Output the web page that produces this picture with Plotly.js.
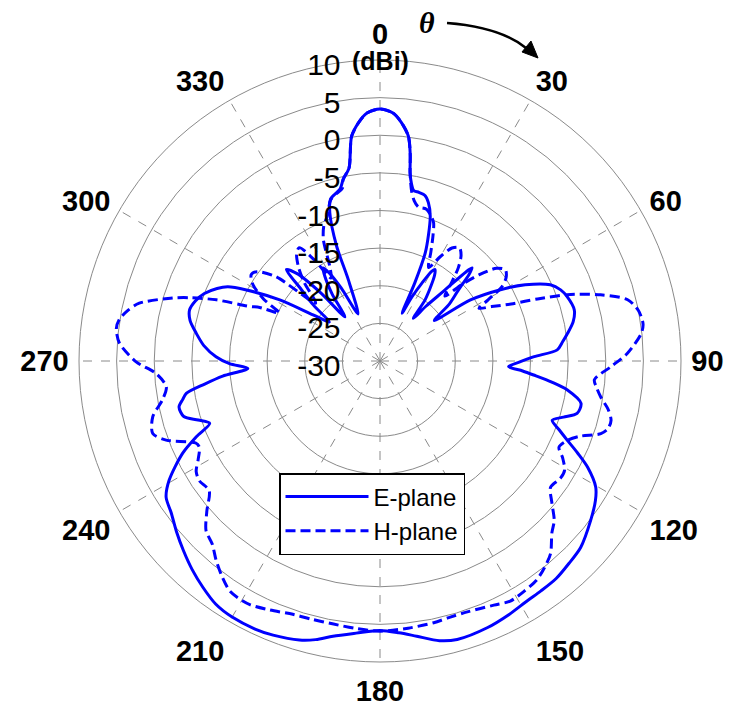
<!DOCTYPE html>
<html>
<head>
<meta charset="utf-8">
<script src="https://cdn.plot.ly/plotly-3.0.1.min.js"></script>
<style>html,body{margin:0;padding:0;background:#fff;}#chart{width:731px;height:711px;}</style>
</head>
<body>
<div id="chart"></div>
<script>
// ---- Data (theta in degrees, gain in dBi) ----
const eTheta = [0,3,5,7.2,8.3,9.1,10,11.2,13,15.2,17,19.1,21,22.7,24,24.8,26.5,28.3,30,31,32.5,34.5,36.4,38,40,42.3,44,44.7,45.8,47.9,50.5,53.3,56,59.4,62.3,65.9,68.5,71,75.2,78.5,81.6,84,86.4,88.4,90.5,92.5,94,95.2,97,98.8,101.9,104.9,107,109,111,112.9,115,117.1,120.3,122.9,127.1,132.9,137,141,145,148.5,153,158,164.5,168,172.4,176,180,185,189.7,193,196.1,201.3,205,210,214,218,222,226,230,234,237.5,240.5,244.9,247.6,249.9,252,254.2,257.1,259,260.5,262.5,264.5,266.8,269,271.5,275,278.6,282,285,288,291,294,296,298,301.4,304.6,307.6,310,312.5,314.3,316.5,319,321.5,324.5,327,328.5,330,332,335,338.7,339.3,341.3,343,345.5,347,348.5,350.9,352.8,355,357,360];
const eGain  = [3.5,3.0,1.9,0.1,-2.2,-4.7,-6.0,-6.9,-7.0,-7.2,-8.0,-9.6,-12.0,-14.4,-18.6,-23.0,-20.5,-18.2,-16.2,-15.8,-16.5,-18.2,-19.9,-22.8,-20.5,-17.5,-13.5,-12.6,-13.5,-16.0,-18.0,-21.0,-15.5,-11.4,-8.2,-5.2,-4.2,-3.7,-3.3,-3.8,-4.8,-5.6,-6.4,-9.5,-11.5,-12.9,-11.0,-9.5,-7.0,-4.8,-2.7,-2.9,-4.5,-5.8,-4.5,-3.0,-1.0,1.0,3.2,4.1,5.1,6.4,6.8,7.2,7.3,7.4,7.8,8.2,8.4,8.0,6.9,6.2,5.8,6.3,7.1,8.0,8.6,9.1,9.3,9.3,9.0,8.2,7.3,6.3,5.3,4.3,3.7,2.2,-1.0,-3.6,-5.9,-4.6,-2.9,-2.6,-3.3,-3.9,-6.5,-9.0,-12.4,-10.0,-8.2,-6.5,-5.3,-4.2,-3.8,-4.2,-5.0,-6.3,-7.5,-9.9,-14.4,-19.2,-21.5,-18.5,-15.5,-12.6,-14.0,-18.0,-22.5,-19.0,-16.5,-15.5,-16.5,-19.0,-23.1,-18.4,-13.7,-9.2,-7.5,-6.9,-6.5,-5.4,-4.0,0.1,1.9,3.0,3.5];

const hTheta = [0,3,5,7.2,8.3,9.1,10.5,12,14,17,19.5,21.2,23,25,27.5,30,32.5,35,37.5,40,42.5,45,47,49,51.5,54,56.5,58.6,60.5,62,64,66.5,68.5,70.5,73.3,76.1,79,82,84,88.2,91.4,95,97,99.2,102,104.4,106.5,108.2,110.5,112.6,115.7,118,120.6,123,126.5,129.5,132.5,135,138.5,141.5,144.5,148,151.5,155,160.8,165,168.4,174,180,185,190,195,199,204,208,211,213.2,216,219.4,222.5,225.7,229,232.8,236.5,239,241.5,244.5,246,249.7,252.3,256.2,259.8,263.1,266.8,269.8,273.9,277,279,281.3,283.5,286.9,288.5,290.5,292.7,294,295.5,298,301,303.8,306,309,312,316,319,322,324.5,327,329.5,332,335,337.5,340,343,345.5,347.7,348.5,350.9,352.8,355,357,360];
const hGain  = [3.5,3.0,1.9,0.1,-2.2,-4.7,-7.0,-8.2,-8.9,-8.9,-9.6,-10.3,-12.0,-14.0,-16.0,-14.0,-12.2,-11.6,-12.3,-13.8,-16.0,-17.8,-15.0,-12.5,-10.2,-9.4,-9.9,-11.0,-13.5,-15.1,-13.5,-11.0,-7.5,-3.6,0.6,3.9,5.0,5.3,4.9,2.9,0.7,-1.4,-1.0,-0.3,1.0,1.7,1.6,0.9,-1.5,-2.8,-3.6,-2.5,-1.5,-1.4,-1.8,-0.4,1.4,2.3,4.2,5.1,5.8,6.1,6.3,5.8,5.3,5.3,5.5,5.7,5.9,5.7,5.5,5.5,5.6,6.2,6.7,6.7,6.5,5.6,4.3,3.0,2.3,0.5,-1.5,-1.2,-1.5,-2.5,-3.4,-3.2,0.3,1.7,1.1,-0.6,-1.4,-0.2,2.4,4.7,5.3,5.1,4.2,2.9,-1.2,-3.5,-6.8,-11.2,-12.5,-15.2,-12.5,-10.3,-9.4,-9.8,-12.2,-18.5,-15.5,-13.5,-12.0,-11.5,-14.0,-17.2,-15.8,-12.2,-10.5,-9.5,-7.6,-7.0,-6.5,-5.4,-4.0,0.1,1.9,3.0,3.5];

const angleTicks = [0,30,60,90,120,150,180,210,240,270,300,330];
const angleLabels = ['0','30','60','90','120','150','180','210','240','270','300','330'];
const radialTicks = [-30,-25,-20,-15,-10,-5,0,5,10];
const radialLabels = ['-30','-25','-20','-15','-10','-5','0','5','10'];

// ---- Layout geometry ----
const W = 731, H = 711;
const cx = 380, cy = 361, R = 301;
const P = (x, y) => (x / W).toFixed(4) + ',' + (1 - y / H).toFixed(4);

const blue = '#0000ff';
const sans = 'Liberation Sans, Arial, sans-serif';

const traces = [
  {type:'scatterpolar', mode:'lines', name:'H-plane', theta:hTheta, r:hGain,
   line:{color:blue, width:3, dash:'10px,5px', shape:'spline', smoothing:0.8}, legendrank:2},
  {type:'scatterpolar', mode:'lines', name:'E-plane', theta:eTheta, r:eGain,
   line:{color:blue, width:3, shape:'spline', smoothing:0.8}, legendrank:1}
];

// curved arrow for theta
const ax0=[447,23], ac=[500,27], ae=[526,48];
const tip=[538,58];
const head = 'M' + P(tip[0],tip[1]) + ' L' + P(522,52) + ' L' + P(531,41) + ' Z';

const layout = {
  width: W, height: H,
  margin:{l:0,r:0,t:0,b:0},
  paper_bgcolor:'#fff',
  showlegend:true,
  legend:{x:279/W, y:1-473/H, xanchor:'left', yanchor:'top',
    bgcolor:'#fff', bordercolor:'#000', borderwidth:1.5, itemwidth:83,
    font:{family:sans, size:24, color:'#000'}},
  polar:{
    domain:{x:[(cx-R)/W,(cx+R)/W], y:[1-(cy+R)/H, 1-(cy-R)/H]},
    bgcolor:'rgba(0,0,0,0)',
    angularaxis:{rotation:90, direction:'clockwise',
      tickmode:'array', tickvals:angleTicks, ticktext:angleLabels,
      tickfont:{family:sans, size:29, color:'#000', weight:'bold'},
      showline:true, linecolor:'#8a8a8a', linewidth:1,
      showgrid:true, gridcolor:'#8a8a8a', gridwidth:1, griddash:'dash',
      ticks:'outside', ticklen:4, tickcolor:'rgba(0,0,0,0)'},
    radialaxis:{range:[-30,10], angle:90, side:'counterclockwise',
      tickmode:'array', tickvals:radialTicks, ticktext:radialLabels,
      tickfont:{family:sans, size:30, color:'#000'},
      showline:false, showgrid:true, gridcolor:'#8a8a8a', gridwidth:1,
      ticks:'outside', ticklen:12, tickcolor:'rgba(0,0,0,0)'}
  },
  annotations:[
    {xref:'paper', yref:'paper', x:350/W, y:1-61/H, xanchor:'left', yanchor:'middle',
     text:'<b>(dBi)</b>', showarrow:false, font:{family:sans, size:25, color:'#000'}},
    {xref:'paper', yref:'paper', x:427/W, y:1-22/H, xanchor:'center', yanchor:'middle',
     text:'<b><i>θ</i></b>', showarrow:false, font:{family:'Liberation Serif, Times New Roman, serif', size:30, color:'#000'}}
  ],
  shapes:[
    {type:'path', xref:'paper', yref:'paper',
     path:'M' + P(ax0[0],ax0[1]) + ' Q' + P(ac[0],ac[1]) + ' ' + P(ae[0],ae[1]),
     line:{color:'#000', width:2.5}},
    {type:'path', xref:'paper', yref:'paper', path:head, fillcolor:'#000', line:{color:'#000', width:1}}
  ]
};

Plotly.newPlot('chart', traces, layout, {staticPlot:true, displayModeBar:false});
</script>
</body>
</html>
